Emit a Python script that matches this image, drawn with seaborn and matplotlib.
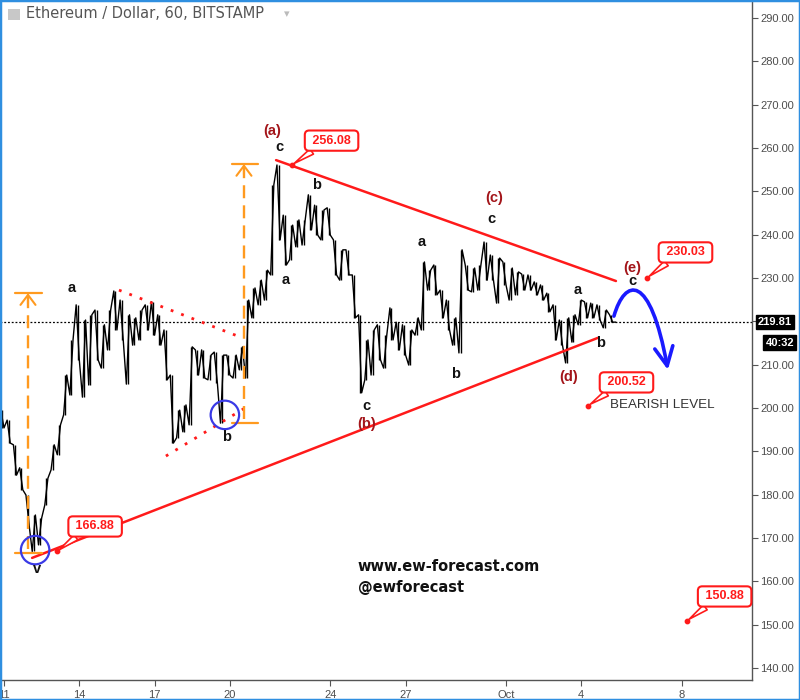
import matplotlib
matplotlib.use("Agg")
import matplotlib.pyplot as plt
import matplotlib.dates as mdates
from matplotlib.path import Path
from matplotlib.patches import FancyArrowPatch, Rectangle
import seaborn as sns
import pandas as pd
from datetime import datetime, timedelta

# ---------------- data ----------------
title = "Ethereum / Dollar, 60, BITSTAMP"
bar_start = datetime(2017, 9, 10, 21)
bar_hours = 6
highs = [199.5, 197.2, 191.5, 186.2, 179.9, 175.3, 174.6, 183.8, 191.5, 196.1,
         207.6, 215.7, 223.8, 220.3, 221.5, 222.6, 219.2, 222.6, 227.0, 224.9,
         221.5, 220.8, 222.6, 223.8, 224.5, 221.5, 218.0, 207.6, 199.5, 200.7,
         214.1, 213.4, 213.4, 212.2, 212.9, 212.2, 212.2, 212.2, 214.1, 224.9,
         227.7, 229.5, 231.8, 251.5, 256.08, 244.5, 242.2, 243.4, 243.4, 249.2,
         246.8, 245.7, 246.2, 238.8, 236.5, 236.5, 230.7, 221.5, 215.7, 218.0,
         219.2, 216.8, 223.1, 219.8, 219.2, 218.0, 220.8, 233.7, 231.8, 233.0,
         227.2, 224.9, 220.8, 236.5, 233.0, 232.3, 233.0, 238.3, 235.3, 234.6,
         233.7, 232.3, 231.4, 230.9, 230.7, 229.1, 228.4, 226.5, 223.8, 220.3,
         220.8, 221.5, 224.9, 224.5, 224.2, 223.8, 222.6, 221.5]
lows = [195.4, 191.9, 184.5, 181.1, 173.0, 166.88, 168.4, 177.6, 185.7, 189.2,
        198.4, 203.0, 211.1, 202.5, 205.3, 211.1, 209.2, 213.4, 218.0, 215.7,
        205.5, 214.5, 215.7, 218.0, 216.8, 214.5, 206.5, 191.9, 193.1, 194.5,
        196.1, 207.6, 206.9, 206.5, 205.8, 196.5, 207.6, 206.9, 208.8, 206.9,
        220.8, 223.8, 224.9, 230.7, 238.8, 233.0, 234.2, 237.2, 237.6, 241.1,
        239.9, 238.8, 239.9, 230.7, 229.5, 230.7, 220.8, 203.5, 206.5, 207.6,
        211.1, 209.2, 215.7, 213.4, 212.2, 209.9, 216.8, 218.0, 227.2, 226.1,
        220.8, 218.0, 214.5, 212.7, 227.2, 226.8, 227.2, 229.5, 229.5, 224.2,
        228.4, 224.9, 226.1, 227.2, 227.2, 226.1, 224.9, 222.2, 215.7, 214.5,
        210.4, 215.2, 219.2, 220.8, 220.8, 220.3, 218.5, 219.81]
last_price = 219.81
countdown = "40:32"
price_ticks = list(range(140, 300, 10))
hidden_tick = 220  # covered by the last-price tag
date_ticks = [datetime(2017, 9, 11), datetime(2017, 9, 14), datetime(2017, 9, 17),
              datetime(2017, 9, 20), datetime(2017, 9, 24), datetime(2017, 9, 27),
              datetime(2017, 10, 1), datetime(2017, 10, 4), datetime(2017, 10, 8)]
date_labels = ["11", "14", "17", "20", "24", "27", "Oct", "4", "8"]

# wave labels: text, day offset from Sep 11, price, kind
wave_labels = [("a", 2.71, 227.7, "minor"), ("b", 8.88, 193.3, "minor"),
               ("v", 1.31, 162.8, "minor"),
               ("(a)", 10.68, 263.9, "major"), ("c", 10.96, 260.2, "minor"),
               ("b", 12.47, 251.5, "minor"), ("a", 11.24, 229.5, "minor"),
               ("c", 14.42, 200.5, "minor"), ("(b)", 14.46, 196.3, "major"),
               ("a", 16.65, 238.3, "minor"), ("b", 18.01, 207.8, "minor"),
               ("(c)", 19.52, 248.5, "major"), ("c", 19.40, 243.6, "minor"),
               ("a", 22.87, 227.2, "minor"), ("b", 23.78, 215.0, "minor"),
               ("(d)", 22.51, 207.2, "major"), ("(e)", 25.02, 232.3, "major"),
               ("c", 25.02, 229.3, "minor")]
# price callouts: value, dot day, box day, box price
callouts = [(256.08, 11.47, 13.05, 261.7), (166.88, 2.11, 3.63, 172.65),
            (230.03, 25.62, 27.15, 235.9), (200.52, 23.27, 24.80, 205.9),
            (150.88, 27.21, 28.71, 156.5)]
tri_upper = [(10.84, 257.2), (24.38, 229.3)]
tri_lower = [(1.12, 165.4), (23.67, 216.2)]
dot_upper = [(4.58, 227.2), (9.40, 216.4)]
dot_lower = [(6.45, 188.9), (9.60, 200.0)]
# measured moves: x day, low, high, cap left, cap right
measures = [(0.956, 166.5, 226.5, 0.44, 1.51), (9.56, 196.5, 256.3, 9.08, 10.12)]
circles = [(1.24, 167.2), (8.80, 198.4)]
arrow_pts = [(24.30, 221.2), (24.74, 230.0), (25.74, 231.4), (26.45, 208.8)]
bearish_text = ("BEARISH LEVEL", 24.14, 200.7)
web_text = [("www.ew-forecast.com", 14.10, 163.5), ("@ewforecast", 14.10, 158.5)]

# ---------------- drawing ----------------
sns.set_theme(style="white")
plt.rcParams["font.family"] = ["Liberation Sans", "DejaVu Sans"]

D0 = datetime(2017, 9, 11)
PX_PER_DAY = 25.1


def T(d):
    return mdates.date2num(D0 + timedelta(days=d))


fig = plt.figure(figsize=(8, 7), dpi=100)
ax = fig.add_axes([0, 20 / 700, 752 / 800, 680 / 700])

# zigzag price path from bar highs / lows
times, vals, bar_mid_t = [], [], []
for i, (h, l) in enumerate(zip(highs, lows)):
    t0 = bar_start + timedelta(hours=bar_hours * i)
    mid = (h + l) / 2
    nmid = (highs[i + 1] + lows[i + 1]) / 2 if i + 1 < len(highs) else last_price
    first, second = (l, h) if nmid > mid else (h, l)
    times += [t0, t0 + timedelta(hours=bar_hours / 2)]
    vals += [first, second]
    bar_mid_t.append(t0 + timedelta(hours=bar_hours / 4))
times.append(bar_start + timedelta(hours=bar_hours * len(highs)))
vals.append(last_price)
df = pd.DataFrame({"time": times, "price": vals})

ax.axhline(last_price, color="black", lw=0.9, ls=(0, (1.5, 1.5)), zorder=1)
sns.lineplot(data=df, x="time", y="price", ax=ax, color="black", lw=1.0,
             sort=False, estimator=None, zorder=3)
ax.vlines(bar_mid_t, lows, highs, color="black", lw=1.0, zorder=3)

red = "#ff1a1a"
ax.plot([T(tri_upper[0][0]), T(tri_upper[1][0])], [tri_upper[0][1], tri_upper[1][1]],
        color=red, lw=1.8, zorder=4)
ax.plot([T(tri_lower[0][0]), T(tri_lower[1][0])], [tri_lower[0][1], tri_lower[1][1]],
        color=red, lw=1.8, zorder=4)
for seg in (dot_upper, dot_lower):
    ax.plot([T(seg[0][0]), T(seg[1][0])], [seg[0][1], seg[1][1]],
            color=red, lw=2.0, ls=(0, (1, 3)), zorder=4)

orange = "#ff9a1f"
for x, lo, hi, cl, cr in measures:
    ax.plot([T(x), T(x)], [lo + 1.0, hi - 1.2], color=orange, lw=1.7,
            ls=(0, (5.5, 3)), zorder=4)
    ax.plot([T(cl), T(cr)], [hi, hi], color=orange, lw=1.6, zorder=4)
    ax.plot([T(cl), T(cr)], [lo, lo], color=orange, lw=1.6, zorder=4)
    ax.annotate("", xy=(T(x), hi), xytext=(T(x), hi - 2.4),
                arrowprops=dict(arrowstyle="->,head_length=0.6,head_width=0.45",
                                color=orange, lw=1.5, shrinkA=0, shrinkB=0))

ax.scatter([T(c[0]) for c in circles], [c[1] for c in circles], s=420,
           facecolors="none", edgecolors="#3a3ae6", linewidths=1.6, zorder=5)

blue_path = Path([(T(d), p) for d, p in arrow_pts],
                 [Path.MOVETO, Path.CURVE4, Path.CURVE4, Path.CURVE4])
arr = FancyArrowPatch(path=blue_path, arrowstyle="->,head_length=0.45,head_width=0.22",
                      mutation_scale=30, color="#1a1aff", lw=2.6, zorder=5)
ax.add_patch(arr)

for txt, d, p, kind in wave_labels:
    col = "#a3151a" if kind == "major" else "#111111"
    ax.text(T(d), p, txt, ha="center", va="center", fontsize=10.5,
            fontweight="bold", color=col, zorder=6)

for val, dd, bd, bp in callouts:
    ax.scatter([T(dd)], [val], s=10, color=red, zorder=7)
    ax.annotate(f" {val:.2f} ", xy=(T(dd), val), xytext=(T(bd), bp),
                ha="center", va="center", fontsize=9, fontweight="bold", color=red,
                bbox=dict(boxstyle="round,pad=0.33,rounding_size=0.35", fc="white",
                          ec=red, lw=1.5),
                arrowprops=dict(arrowstyle="wedge,tail_width=0.5", fc="white", ec=red,
                                lw=1.2, relpos=(0.22, 0.0), shrinkA=0, shrinkB=2),
                zorder=7, annotation_clip=False)

ax.text(T(bearish_text[1]), bearish_text[2], bearish_text[0], ha="left", va="center",
        fontsize=9.6, color="#333333", zorder=6)
for txt, d, p in web_text:
    ax.text(T(d), p, txt, ha="left", va="center", fontsize=10.5, fontweight="bold",
            color="#111111", family="DejaVu Sans", zorder=6)

# axes
ax.set_xlim(T(-4 / PX_PER_DAY), T(748 / PX_PER_DAY))
ax.set_ylim(290 - (680 - 18) / 43.33 * 10, 290 + 18 / 43.33 * 10)
ax.set_xlabel("")
ax.set_ylabel("")
ax.yaxis.tick_right()
ax.set_yticks(price_ticks)
ax.set_yticklabels(["" if v == hidden_tick else f"{v:.2f}" for v in price_ticks])
ax.set_xticks([mdates.date2num(d) for d in date_ticks])
ax.set_xticklabels(date_labels)
for s in ("left", "top"):
    ax.spines[s].set_visible(False)
for s in ("right", "bottom"):
    ax.spines[s].set_visible(True)
    ax.spines[s].set_color("#555555")
    ax.spines[s].set_linewidth(1.0)
ax.tick_params(axis="y", which="both", right=True, left=False, direction="out", length=4,
               width=0.8, color="#555555", labelsize=8, labelcolor="#4d4d4d", pad=2)
ax.tick_params(axis="x", which="both", bottom=True, direction="out", length=4,
               width=0.8, color="#555555", labelsize=8, labelcolor="#4d4d4d", pad=3)
ax.grid(False)
ax.set_facecolor("white")

# last price and countdown tags
ax.annotate(f"{last_price:.2f}", xy=(1.008, last_price), xycoords=("axes fraction", "data"),
            ha="left", va="center", fontsize=8, fontweight="bold", color="white",
            bbox=dict(boxstyle="square,pad=0.2", fc="black", ec="black"),
            annotation_clip=False, zorder=8)
ax.annotate(countdown, xy=(1.0559, last_price), xycoords=("axes fraction", "data"),
            xytext=(0, -14.8), textcoords="offset points",
            ha="right", va="center", fontsize=8, fontweight="bold", color="white",
            bbox=dict(boxstyle="square,pad=0.2", fc="black", ec="black"),
            annotation_clip=False, zorder=8)

# title and frame
fig.add_artist(Rectangle((8 / 800, 1 - 20 / 700), 12 / 800, 11 / 700,
                         transform=fig.transFigure, fc="#c8c8c8", ec="none"))
fig.text(26 / 800, 1 - 14 / 700, title, ha="left", va="center", fontsize=10.5,
         color="#555555", family="DejaVu Sans")
fig.text(287 / 800, 1 - 14 / 700, "\u25be", ha="center", va="center", fontsize=8,
         color="#bbbbbb", family="DejaVu Sans")
fig.add_artist(Rectangle((0, 0), 1, 1, transform=fig.transFigure, fill=False,
                         ec="#2f8fe0", lw=2.5))

fig.savefig("out.png", dpi=100)
